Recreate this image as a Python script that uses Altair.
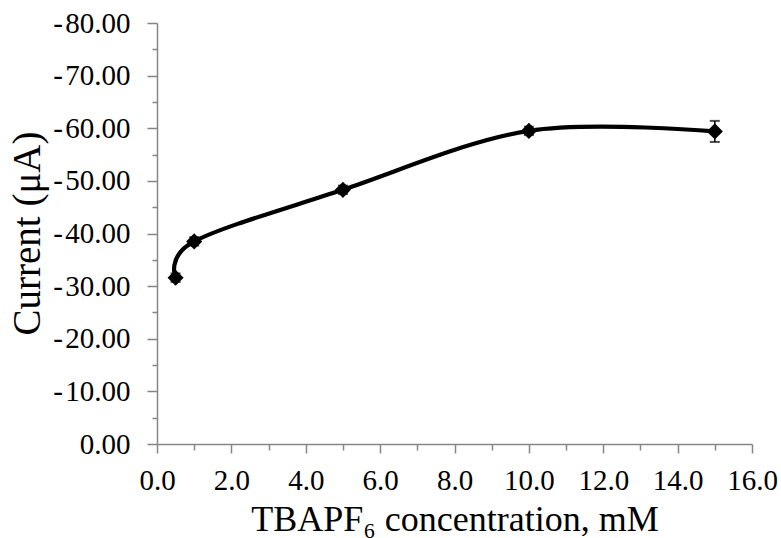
import altair as alt
import pandas as pd

conc = [0.5, 1.0, 5.0, 10.0, 15.0]
current = [-31.6, -38.5, -48.3, -59.5, -59.4]
err = [0.8, 0.8, 0.8, 0.8, 2.0]

df = pd.DataFrame({
    "conc": conc,
    "current": current,
    "lo": [c - e for c, e in zip(current, err)],
    "hi": [c + e for c, e in zip(current, err)],
})

FONT = "Liberation Serif"
AX = "#868686"

x_axis = alt.Axis(
    values=list(range(0, 17)),
    labelExpr="datum.value % 2 === 0 ? format(datum.value, '.1f') : ''",
    tickSize={"condition": {"test": "datum.value % 2 !== 0", "value": 6}, "value": 9},
    tickColor=AX, domainColor=AX, tickWidth=1.5, domainWidth=1.5,
    labelFont=FONT, labelFontSize=29, labelColor="black", labelPadding=13,
    labelOverlap=False, labelFlush=False, grid=False,
    titleFont=FONT, titleFontSize=36, titleFontWeight="normal", titleColor="black",
    titleX=297.5, titleY=86, titleBaseline="alphabetic", titleAlign="center",
)
y_axis = alt.Axis(
    values=list(range(-80, 1, 5)),
    labelExpr="datum.value % 10 === 0 ? (datum.value === 0 ? '0.00' : '-\u200a' + format(abs(datum.value), '.2f')) : ''",
    tickSize={"condition": {"test": "datum.value % 10 !== 0", "value": 5}, "value": 10},
    tickColor=AX, domainColor=AX, tickWidth=1.5, domainWidth=1.5,
    labelFont=FONT, labelFontSize=29, labelColor="black", labelPadding=17,
    labelOverlap=False, labelFlush=False, grid=False,
    titleFont=FONT, titleFontSize=39, titleFontWeight="normal", titleColor="black",
    titleAngle=270, titleX=-118, titleY=210, titleBaseline="alphabetic", titleAlign="center",
)

xs = alt.Scale(domain=[0, 16], nice=False, zero=False)
ys = alt.Scale(domain=[-80, 0], nice=False, reverse=True)
XT = "TBAPF\u2086 concentration, mM"
YT = "Current (\u03bcA)"

base = alt.Chart(df)
X = alt.X("conc:Q", scale=xs, axis=x_axis, title=XT)

line = base.mark_line(interpolate="cardinal", color="black", strokeWidth=4.2).encode(
    x=X, y=alt.Y("current:Q", scale=ys, axis=y_axis, title=YT)
)
rule = base.mark_rule(color="black", strokeWidth=1.5).encode(
    x=X, y=alt.Y("lo:Q", scale=ys, axis=y_axis, title=YT), y2="hi:Q"
)
cap_lo = base.mark_tick(orient="horizontal", color="black", size=10, thickness=2).encode(
    x=X, y=alt.Y("lo:Q", scale=ys, axis=y_axis, title=YT)
)
cap_hi = base.mark_tick(orient="horizontal", color="black", size=10, thickness=2).encode(
    x=X, y=alt.Y("hi:Q", scale=ys, axis=y_axis, title=YT)
)
pts = base.mark_point(shape="diamond", filled=True, size=260, color="black", opacity=1).encode(
    x=X, y=alt.Y("current:Q", scale=ys, axis=y_axis, title=YT)
)

chart = alt.layer(line, rule, cap_lo, cap_hi, pts).properties(
    width=595, height=421,
    autosize=alt.AutoSizeParams(type="none"),
    padding={"left": 157, "top": 23, "right": 29, "bottom": 94},
    background="white",
).configure_view(stroke=None)

chart.save("out.html", embed_options={"renderer": "svg", "actions": False})
